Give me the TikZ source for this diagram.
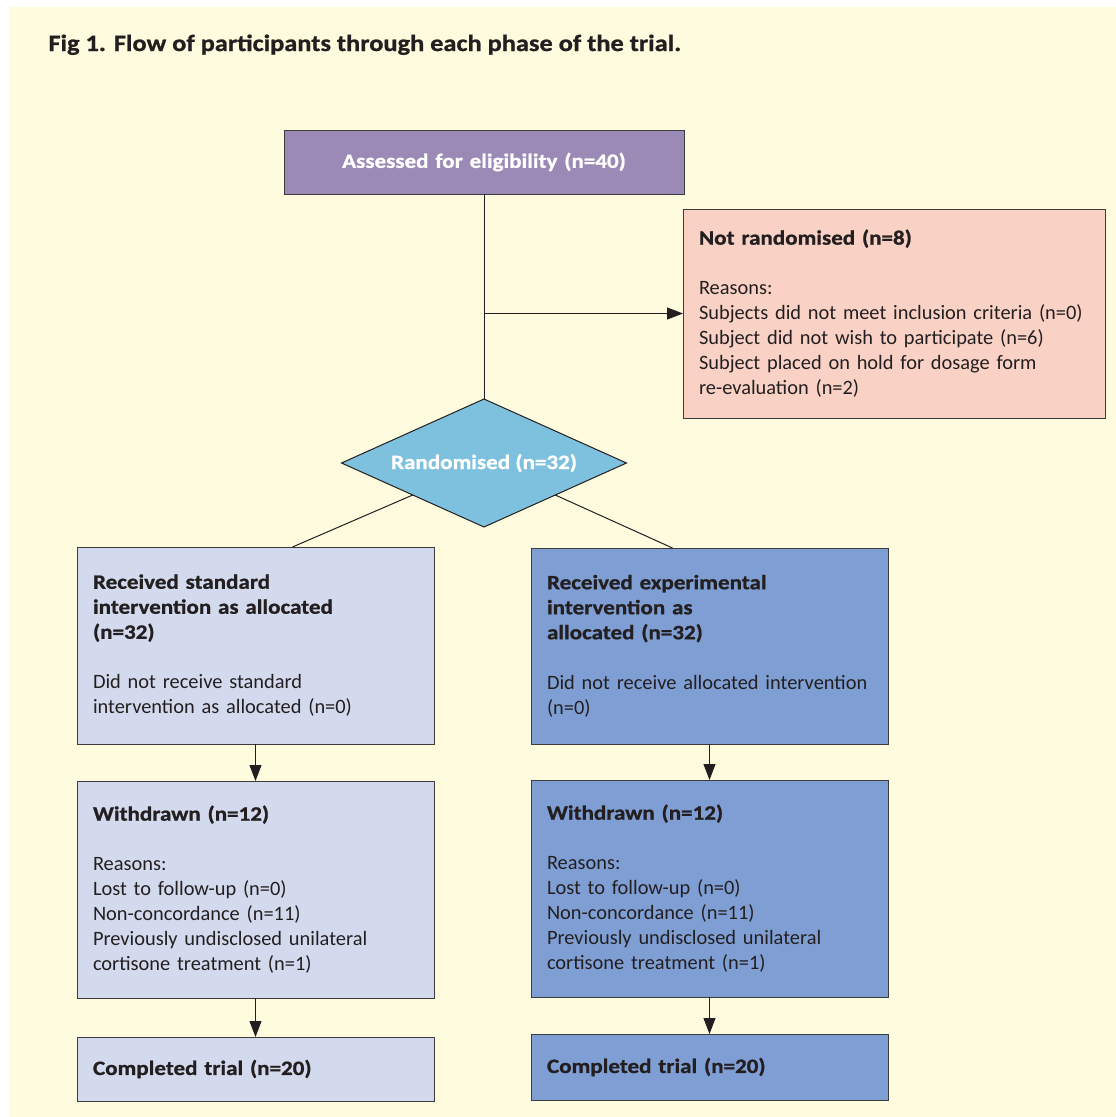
\documentclass[tikz,border=0pt]{standalone}
\usepackage{fontspec}
\setmainfont{Carlito}[BoldFeatures={FakeStretch=1.13,FakeBold=1}]
\usetikzlibrary{shapes.geometric,arrows.meta}

\tikzset{every picture/.style={line width=0.75pt}}

\begin{document}
\begin{tikzpicture}[x=0.75pt,y=0.75pt,yscale=-1,xscale=1,
  box/.style={draw={rgb, 255:red, 60; green, 60; blue, 60 }, rectangle, anchor=north west, outer sep=0pt, inner xsep=12pt, inner ysep=0pt, align=left, text width=243.75pt, font=\fontsize{15.3}{18.75}\selectfont, text={rgb, 255:red, 35; green, 31; blue, 32 }},
  arr/.style={draw={rgb, 255:red, 35; green, 31; blue, 32 }, -{Triangle[length=12pt,width=9pt]}},
  link/.style={draw={rgb, 255:red, 35; green, 31; blue, 32 }}]
\useasboundingbox (0,0) rectangle (1116,1117);
%Shape: Rectangle [id:background]
\fill [fill={rgb, 255:red, 255; green, 251; blue, 223 }] (10,7) rectangle (1116,1117);

% Text Node
\draw (48,51) node [anchor=base west][inner sep=0pt][font=\fontsize{17.5}{20}\selectfont\bfseries, text={rgb, 255:red, 35; green, 31; blue, 32 }] (title) {Fig 1. Flow of participants through each phase of the trial.};

%Shape: Rectangle [id:assess]
\draw (284,130) node [box, fill={rgb, 255:red, 155; green, 138; blue, 182 }, text width=276pt, align=center, minimum height=48pt, text=white, font=\fontsize{15.3}{18.75}\selectfont\bfseries] (assess) {Assessed for eligibility (n=40)};
%Shape: Rectangle [id:notr]
\draw (683,209) node [box, fill={rgb, 255:red, 249; green, 209; blue, 197 }, text width=292.5pt, minimum height=156.75pt] (notr) {\textbf{Not randomised (n=8)}\\[18.75pt]
Reasons:\\
Subjects did not meet inclusion criteria (n=0)\\
Subject did not wish to participate (n=6)\\
Subject placed on hold for dosage form\\
re-evaluation (n=2)};
%Shape: Diamond [id:rand]
\draw (484,463) node [diamond, aspect=2.2, draw={rgb, 255:red, 35; green, 31; blue, 32 }, fill={rgb, 255:red, 125; green, 193; blue, 223 }, outer sep=0pt, inner sep=0pt, minimum width=213.75pt, minimum height=96pt, text=white, font=\fontsize{15.3}{18.75}\selectfont\bfseries] (rand) {Randomised (n=32)};

%Shape: Rectangle [id:std1]
\draw (77,547) node [box, fill={rgb, 255:red, 211; green, 218; blue, 238 }, minimum height=147.75pt] (std1) {\textbf{Received standard}\\
\textbf{intervention as allocated}\\
\textbf{(n=32)}\\[18.75pt]
Did not receive standard\\
intervention as allocated (n=0)};
%Shape: Rectangle [id:exp1]
\draw (531,548) node [box, fill={rgb, 255:red, 127; green, 159; blue, 212 }, minimum height=147pt] (exp1) {\textbf{Received experimental}\\
\textbf{intervention as}\\
\textbf{allocated (n=32)}\\[18.75pt]
Did not receive allocated intervention\\
(n=0)};
%Shape: Rectangle [id:std2]
\draw (77,781) node [box, fill={rgb, 255:red, 211; green, 218; blue, 238 }, minimum height=162.75pt] (std2) {\textbf{Withdrawn (n=12)}\\[18.75pt]
Reasons:\\
Lost to follow-up (n=0)\\
Non-concordance (n=11)\\
Previously undisclosed unilateral\\
cortisone treatment (n=1)};
%Shape: Rectangle [id:exp2]
\draw (531,780) node [box, fill={rgb, 255:red, 127; green, 159; blue, 212 }, minimum height=162.75pt] (exp2) {\textbf{Withdrawn (n=12)}\\[18.75pt]
Reasons:\\
Lost to follow-up (n=0)\\
Non-concordance (n=11)\\
Previously undisclosed unilateral\\
cortisone treatment (n=1)};
%Shape: Rectangle [id:std3]
\draw (77,1037) node [box, fill={rgb, 255:red, 211; green, 218; blue, 238 }, minimum height=48pt] (std3) {\textbf{Completed trial (n=20)}};
%Shape: Rectangle [id:exp3]
\draw (531,1034) node [box, fill={rgb, 255:red, 127; green, 159; blue, 212 }, minimum height=49.5pt] (exp3) {\textbf{Completed trial (n=20)}};

%Straight Lines [id:links]
\draw [link] (assess) -- (rand) ;
\draw [arr] (assess.south |- notr.west) -- (notr.west) ;
\draw [link] (rand.south west) -- ([xshift=27.75pt]std1.north) ;
\draw [link] (rand.south east) -- ([xshift=-27.75pt]exp1.north) ;
\draw [arr] (std1) -- (std2) ;
\draw [arr] (exp1) -- (exp2) ;
\draw [arr] (std2) -- (std3) ;
\draw [arr] (exp2) -- (exp3) ;

\end{tikzpicture}
\end{document}
